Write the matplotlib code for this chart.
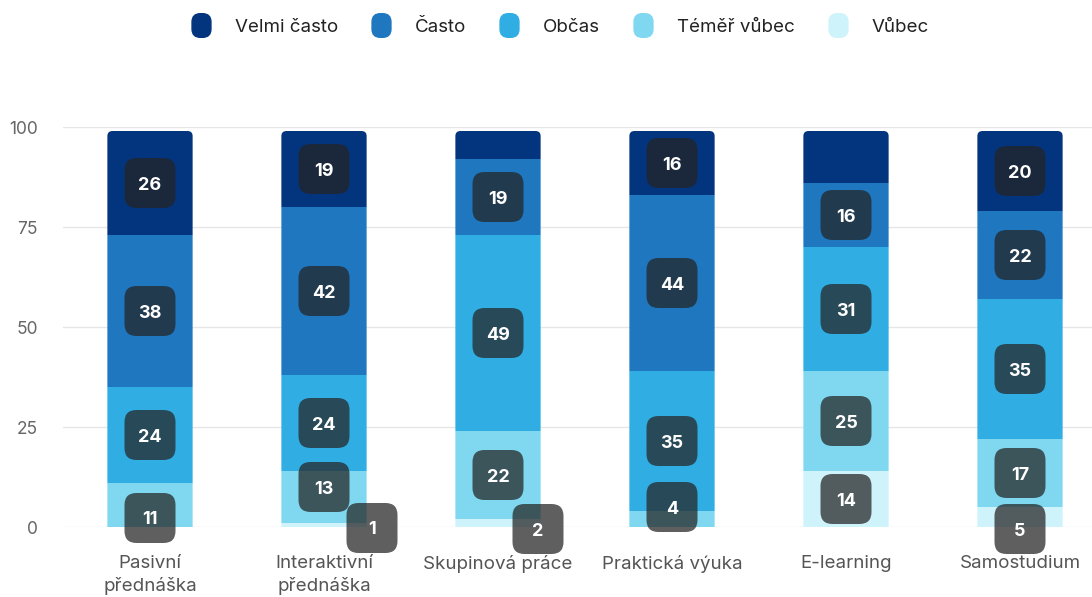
import matplotlib

matplotlib.use("Agg")
import matplotlib.pyplot as plt
import matplotlib.transforms as mtransforms
from matplotlib.patches import FancyBboxPatch, BoxStyle
from matplotlib.lines import Line2D
import numpy as np

plt.rcParams["font.family"] = ["Inter", "DejaVu Sans"]

kategorie = ["Pasivní\npřednáška", "Interaktivní\npřednáška", "Skupinová práce",
             "Praktická výuka", "E-learning", "Samostudium"]
serie = ["Velmi často", "Často", "Občas", "Téměř vůbec", "Vůbec"]
barvy = ["#03357f", "#1f77c0", "#30aee3", "#7fd8f0", "#cff3fa"]

velmi_casto = [26, 19, 7, 16, 13, 20]
casto = [38, 42, 19, 44, 16, 22]
obcas = [24, 24, 49, 35, 31, 35]
temer_vubec = [11, 13, 22, 4, 25, 17]
vubec = [0, 1, 2, 0, 14, 5]

# which labels are hidden (the chart hides some of them)
skryte = {(0, 2), (0, 4)}
# label shifts in px (dx, dy) where the original moved overlapping labels
posun = {(3, 0): (0, -13), (3, 1): (0, 10), (4, 1): (48, -3),
         (4, 2): (40, -6), (3, 3): (0, 12), (4, 5): (0, -12)}

hodnoty = [velmi_casto, casto, obcas, temer_vubec, vubec]
poradi = [4, 3, 2, 1, 0]  # stack from bottom: Vůbec first

fig = plt.figure(figsize=(10.92, 5.97), dpi=100)
ax = fig.add_axes([63 / 1092, 70 / 597, 1044 / 1092, 400 / 597])
x = np.arange(len(kategorie))
sirka = 0.49

dole = np.zeros(len(kategorie))
bary = []
spodky = {}
for i in poradi:
    v = np.array(hodnoty[i], dtype=float)
    b = ax.bar(x, v, sirka, bottom=dole, color=barvy[i], linewidth=0, zorder=2)
    bary.append(b)
    spodky[i] = dole.copy()
    dole = dole + v

# rounded tops via clip path
for j in range(len(kategorie)):
    clip = FancyBboxPatch((x[j] - sirka / 2, -20), sirka, dole[j] + 20,
                          boxstyle="round,pad=0,rounding_size=0.03",
                          mutation_aspect=42, transform=ax.transData,
                          facecolor="none", edgecolor="none")
    ax.add_patch(clip)
    for b in bary:
        b.patches[j].set_clip_path(clip)

ax.set_xlim(-0.5, len(kategorie) - 0.5)
ax.set_ylim(0, 100)
ax.set_yticks([0, 25, 50, 75, 100])
ax.grid(axis="y", color="#e6e6e6", linewidth=1, zorder=0)
ax.set_axisbelow(True)
for s in ax.spines.values():
    s.set_visible(False)
ax.tick_params(axis="y", length=0, pad=18, labelsize=12.5, labelcolor="#666666")
ax.tick_params(axis="x", length=0, pad=20, labelsize=13.5, labelcolor="#555555")
ax.set_xticks(x)
ax.set_xticklabels(kategorie, linespacing=1.35, va="top")

# value labels in rounded dark boxes
for i in range(len(serie)):
    for j in range(len(kategorie)):
        v = hodnoty[i][j]
        if v <= 0 or (i, j) in skryte:
            continue
        yc = spodky[i][j] + v / 2
        dx, dy = posun.get((i, j), (0, 0))
        tr = (fig.dpi_scale_trans
              + mtransforms.ScaledTranslation(x[j], yc, ax.transData)
              + mtransforms.Affine2D().translate(dx, dy))
        box = FancyBboxPatch((-0.255, -0.25), 0.51, 0.5,
                             boxstyle="round,pad=0,rounding_size=0.12",
                             transform=tr, facecolor="#242424", alpha=0.73,
                             edgecolor="none", zorder=4, clip_on=False)
        ax.add_patch(box)
        ax.text(0, 0, str(v), transform=tr, ha="center", va="center_baseline",
                fontsize=13, fontweight="bold", color="white", zorder=5)

# legend with rounded markers
znacka = BoxStyle.Round(pad=0, rounding_size=0.35)(-0.4, -0.5, 0.8, 1.0, 1.0)
uchyty = [Line2D([], [], linestyle="none", marker=znacka, markersize=17,
                 markerfacecolor=c, markeredgecolor=c) for c in barvy]
fig.legend(uchyty, serie, loc="center", bbox_to_anchor=(0.513, 1 - 27 / 597),
           ncol=5, frameon=False, fontsize=13.5, handlelength=1.0,
           handletextpad=1.3, columnspacing=1.8, labelcolor="#222222")

plt.savefig("out.png", dpi=100, facecolor="white")
plt.close()
